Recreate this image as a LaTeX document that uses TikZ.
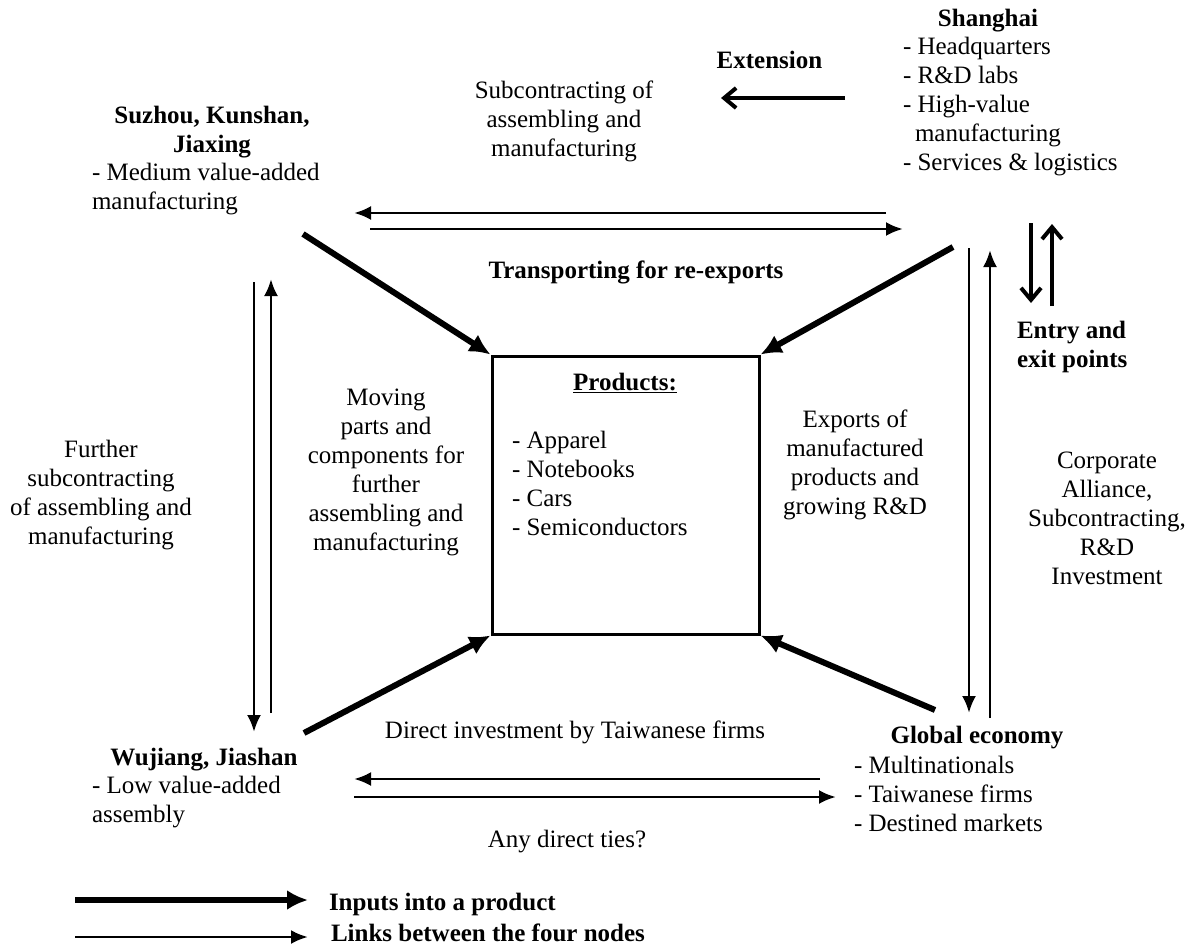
\documentclass[tikz,border=0pt]{standalone}
\usepackage{fontspec}
\setmainfont{Liberation Serif}
\usetikzlibrary{arrows.meta}
\begin{document}
\begin{tikzpicture}[x=1pt,y=-1pt,
  txt/.style={font=\fontsize{25}{29}\selectfont, inner sep=0pt, outer sep=0pt},
  bold/.style={font=\fontsize{25}{29}\selectfont\bfseries, inner sep=0pt, outer sep=0pt},
  input/.style={line width=6pt, -{Latex[length=21pt,width=20pt]}},
  link/.style={line width=2.8pt, -{Latex[length=17pt,width=14pt]}},
  flow/.style={line width=4pt, -{Straight Barb[length=12pt,width=20pt]}},
  prodbox/.style={draw, line width=3pt, minimum width=267pt, minimum height=278pt, inner sep=0pt}]
\useasboundingbox (0,0) rectangle (1192,948);

% texts
\node[bold, anchor=base] (sh) at (988,26) {Shanghai};
\node[txt, anchor=north west, align=left] (shl) at (903,33.7) {\strut- Headquarters\\- R\&D labs\\- High-value\\\hspace*{12pt}manufacturing\\- Services \& logistics};
\node[bold, anchor=base] (ext) at (769.5,68) {Extension};
\node[txt, anchor=north, align=center] (sub) at (564,77.7) {\strut Subcontracting of\\assembling and\\manufacturing};
\node[bold, anchor=north, align=center] (suz) at (212,102.7) {\strut Suzhou, Kunshan,\\Jiaxing};
\node[txt, anchor=north west, align=left] (suzl) at (92,159.7) {\strut- Medium value-added\\manufacturing};
\node[bold, anchor=base] (trans) at (636,278) {Transporting for re-exports};
\node[prodbox] (prod) at (625.5,495) {};
\node[bold, anchor=base] (ptitle) at (625,390) {\underline{Products:}};
\node[txt, anchor=north west, align=left] (plist) at (512,427.7) {\strut- Apparel\\- Notebooks\\- Cars\\- Semiconductors};
\node[txt, anchor=north, align=center] (mov) at (386,384.7) {\strut Moving\\parts and\\components for\\further\\assembling and\\manufacturing};
\node[txt, anchor=north, align=center] (expo) at (855,406.7) {\strut Exports of\\manufactured\\products and\\growing R\&D};
\node[txt, anchor=north, align=center] (fur) at (101,436.7) {\strut Further\\subcontracting\\of assembling and\\manufacturing};
\node[txt, anchor=north, align=center] (corp) at (1107,447.7) {\strut Corporate\\Alliance,\\Subcontracting,\\R\&D\\Investment};
\node[bold, anchor=north west, align=left] (entry) at (1017,317.7) {\strut Entry and\\exit points};
\node[txt, anchor=base] (dir) at (575,738) {Direct investment by Taiwanese firms};
\node[bold, anchor=base] (wu) at (204,765) {Wujiang, Jiashan};
\node[txt, anchor=north west, align=left] (wul) at (92,772.7) {\strut- Low value-added\\assembly};
\node[bold, anchor=base] (glob) at (977,743) {Global economy};
\node[txt, anchor=north west, align=left] (globl) at (854,752.7) {\strut- Multinationals\\- Taiwanese firms\\- Destined markets};
\node[txt, anchor=base] (any) at (567,847) {Any direct ties?};
\node[bold, anchor=base west] (leg1) at (329,910) {Inputs into a product};
\node[bold, anchor=base west] (leg2) at (331,941) {Links between the four nodes};

% coordinates
\coordinate (e1) at (845,98);   \coordinate (e2) at (721,98);
\coordinate (en1) at (1031,223); \coordinate (en2) at (1031,303);
\coordinate (ex1) at (1052,306); \coordinate (ex2) at (1052,224);
\coordinate (t1) at (886,213);  \coordinate (t2) at (354,213);
\coordinate (t3) at (370,229);  \coordinate (t4) at (903,229);
\coordinate (l1) at (254,282);  \coordinate (l2) at (254,732);
\coordinate (l3) at (271,713);  \coordinate (l4) at (271,279);
\coordinate (r1) at (969,248);  \coordinate (r2) at (969,713);
\coordinate (r3) at (990,718);  \coordinate (r4) at (990,250);
\coordinate (b1) at (820,779);  \coordinate (b2) at (354,779);
\coordinate (b3) at (354,797);  \coordinate (b4) at (836,797);
\coordinate (suzo) at (303,234);
\coordinate (sho) at (953,247);
\coordinate (wuo) at (304,733);
\coordinate (globo) at (935,710);
\coordinate (lg1a) at (75,900); \coordinate (lg1b) at (308,900);
\coordinate (lg2a) at (75,937); \coordinate (lg2b) at (308,937);

% connectors
\draw[flow] (e1) -- (e2);
\draw[flow] (en1) -- (en2);
\draw[flow] (ex1) -- (ex2);
\draw[link] (t1) -- (t2);
\draw[link] (t3) -- (t4);
\draw[link] (l1) -- (l2);
\draw[link] (l3) -- (l4);
\draw[link] (r1) -- (r2);
\draw[link] (r3) -- (r4);
\draw[link] (b1) -- (b2);
\draw[link] (b3) -- (b4);
\draw[input] (suzo) -- (prod.north west);
\draw[input] (sho) -- (prod.north east);
\draw[input] (wuo) -- (prod.south west);
\draw[input] (globo) -- (prod.south east);
\draw[input, line width=6.5pt] (lg1a) -- (lg1b);
\draw[link] (lg2a) -- (lg2b);
\end{tikzpicture}
\end{document}
